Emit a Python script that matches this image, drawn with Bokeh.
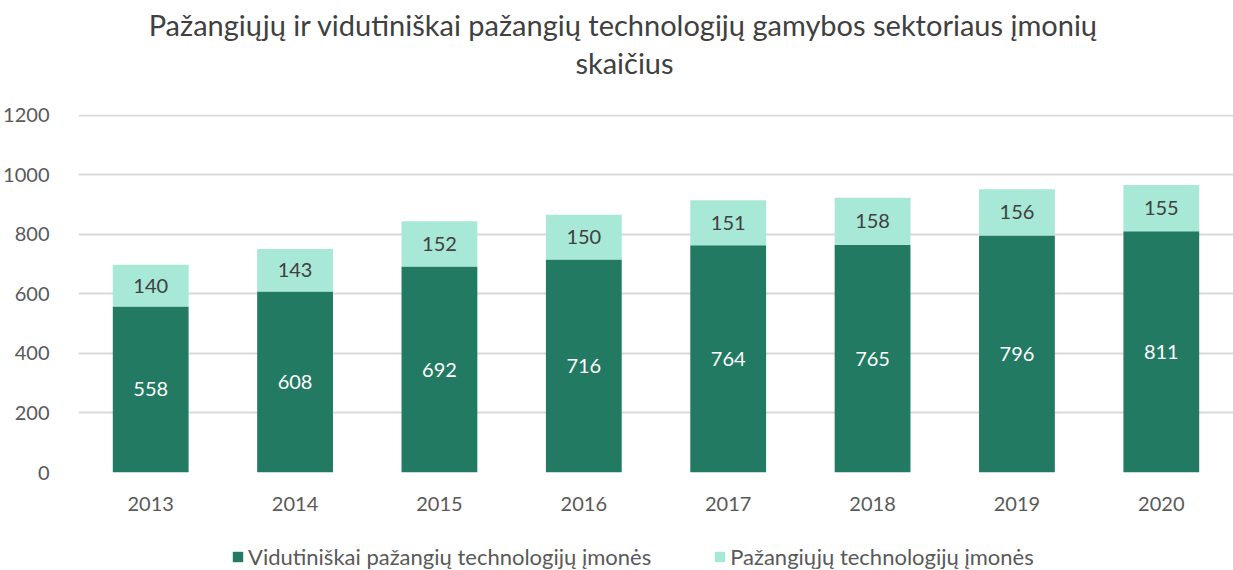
from bokeh.plotting import figure
from bokeh.models import ColumnDataSource, Legend, LegendItem, LabelSet, FixedTicker
from bokeh.layouts import column
from bokeh.core.properties import value
from bokeh.embed import file_html
from bokeh.resources import INLINE

years = ["2013", "2014", "2015", "2016", "2017", "2018", "2019", "2020"]
medium_high = [558, 608, 692, 716, 764, 765, 796, 811]
high = [140, 143, 152, 150, 151, 158, 156, 155]
series_names = ["Vidutiniškai pažangių technologijų įmonės", "Pažangiųjų technologijų įmonės"]
title_lines = ["Pažangiųjų ir vidutiniškai pažangių technologijų gamybos sektoriaus įmonių", "skaičius"]
y_ticks = [0, 200, 400, 600, 800, 1000, 1200]

DARK = "#217A61"
LIGHT = "#A7E8D6"
FONT = "Lato"
W = 1233
LEFT = 78


def bare(fig):
    fig.axis.visible = False
    fig.grid.visible = False
    fig.outline_line_color = None
    return fig


src = ColumnDataSource(dict(
    year=years, mh=medium_high, hi=high,
    mh_mid=[v / 2 for v in medium_high],
    hi_mid=[a + b / 2 for a, b in zip(medium_high, high)],
    top=[a + b for a, b in zip(medium_high, high)],
    mh_txt=[str(v) for v in medium_high],
    hi_txt=[str(v) for v in high],
))

# ---- title block (x in page pixels) ----
tfig = bare(figure(width=W, height=100, x_range=(LEFT, W), y_range=(0, 100),
                   output_backend="svg", toolbar_location=None,
                   min_border_left=LEFT, min_border_right=0, min_border_top=0, min_border_bottom=0))
tsrc = ColumnDataSource(dict(x=[623, 624], y=[76, 38], t=title_lines))
tfig.text(x="x", y="y", text="t", source=tsrc, text_align="center", text_baseline="middle",
          text_font=value(FONT), text_font_size="29px", text_color="#404040")

# ---- main chart ----
p = figure(x_range=years, y_range=(0, 1203), width=W, height=420,
           output_backend="svg", toolbar_location=None,
           min_border_left=LEFT, min_border_right=0, min_border_top=14, min_border_bottom=48)
p.outline_line_color = None

r1 = p.vbar(x="year", bottom=0, top="mh", width=0.525, source=src, fill_color=DARK, line_color=None)
r2 = p.vbar(x="year", bottom="mh", top="top", width=0.525, source=src, fill_color=LIGHT, line_color=None)

p.add_layout(LabelSet(x="year", y="mh_mid", text="mh_txt", source=src, text_align="center",
                      text_baseline="middle", text_color="white", text_font=value(FONT),
                      text_font_size="20px"))
p.add_layout(LabelSet(x="year", y="hi_mid", text="hi_txt", source=src, text_align="center",
                      text_baseline="middle", text_color="#404040", text_font=value(FONT),
                      text_font_size="20px"))

p.yaxis.ticker = FixedTicker(ticks=y_ticks)
p.ygrid.ticker = FixedTicker(ticks=y_ticks)
p.ygrid.grid_line_color = "#D9D9D9"
p.ygrid.grid_line_width = 2
p.xgrid.grid_line_color = None
for ax in (p.xaxis, p.yaxis):
    ax.axis_line_color = None
    ax.major_tick_line_color = None
    ax.minor_tick_line_color = None
    ax.major_label_text_font = FONT
    ax.major_label_text_font_size = "20px"
    ax.major_label_text_color = "#595959"
p.yaxis.major_label_standoff = 23
p.xaxis.major_label_standoff = 18
p.x_range.range_padding = 0.0

# ---- legend block (series bars drawn out of view, only the legend shows) ----
lfig = bare(figure(width=W, height=50, x_range=years, y_range=(5000, 5001),
                   output_backend="svg", toolbar_location=None,
                   min_border_left=LEFT, min_border_right=0, min_border_top=0, min_border_bottom=0))
l1 = lfig.vbar(x="year", top="mh", width=0.5, source=src, fill_color=DARK, line_color=None)
l2 = lfig.vbar(x="year", bottom="mh", top="top", width=0.5, source=src, fill_color=LIGHT, line_color=None)
legend = Legend(items=[LegendItem(label=series_names[0], renderers=[l1]),
                       LegendItem(label=series_names[1], renderers=[l2])],
                orientation="horizontal", location=(231 - LEFT, 0), spacing=62,
                label_text_font=FONT, label_text_font_size="22px", label_text_color="#595959",
                glyph_width=13, glyph_height=13, label_standoff=4, label_height=24,
                border_line_color=None, background_fill_alpha=0, padding=0, margin=0)
lfig.add_layout(legend, "center")

layout = column(tfig, p, lfig, spacing=0)
open("out.html", "w").write(file_html(layout, INLINE))
